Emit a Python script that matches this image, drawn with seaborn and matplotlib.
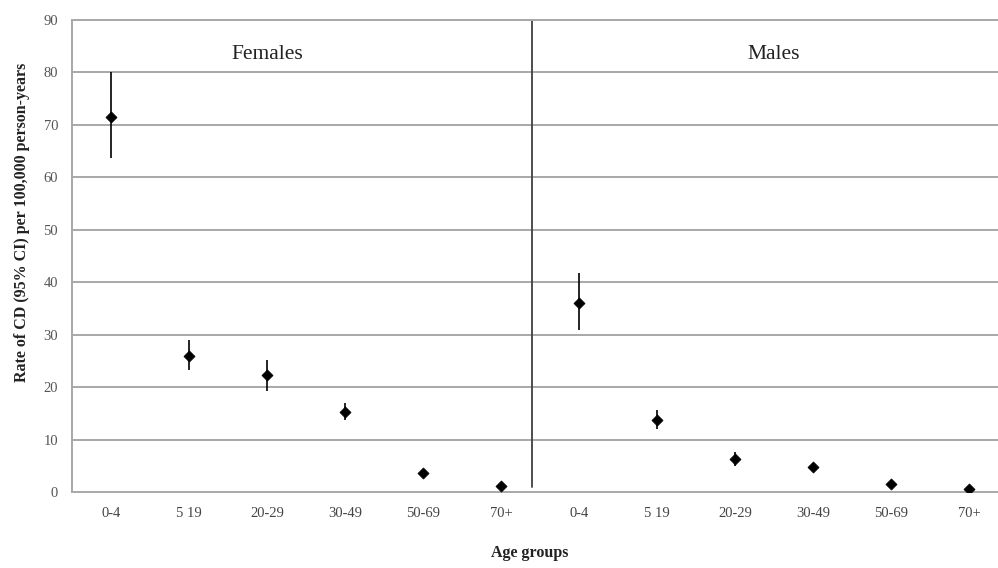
import numpy as np
import pandas as pd
import seaborn as sns
import matplotlib
matplotlib.use("Agg")
import matplotlib.pyplot as plt

# data
age_groups = ["0-4", "5 19", "20-29", "30-49", "50-69", "70+"]
female_rate = [71.5, 26.0, 22.3, 15.3, 3.6, 1.2]
female_low = [63.7, 23.3, 19.3, 13.7, 3.0, 0.8]
female_high = [80.0, 29.0, 25.2, 17.0, 4.3, 1.6]
male_rate = [36.0, 13.7, 6.2, 4.8, 1.5, 0.5]
male_low = [30.8, 12.0, 4.9, 4.3, 1.1, 0.3]
male_high = [41.8, 15.6, 7.7, 5.4, 1.9, 0.7]

df = pd.DataFrame({
    "sex": ["Females"] * 6 + ["Males"] * 6,
    "age": age_groups * 2,
    "rate": female_rate + male_rate,
    "low": female_low + male_low,
    "high": female_high + male_high,
})
df["pos"] = np.arange(len(df))

sns.set_theme(style="white")
plt.rcParams["font.family"] = ["Liberation Serif", "DejaVu Serif"]

fig = plt.figure(figsize=(9.98, 5.68), dpi=100)
ax = fig.add_axes([72 / 998, 76 / 568, 1 - 72 / 998, 472 / 568])

# horizontal grid
for v in range(10, 100, 10):
    ax.axhline(v, color="#a8a8a8", lw=1.4, zorder=0)

# confidence intervals
ax.vlines(df["pos"], df["low"], df["high"], color="black", lw=1.2, zorder=2)

sns.scatterplot(data=df, x="pos", y="rate", marker="D", s=32, color="black",
                edgecolor="black", linewidth=0.5, ax=ax, zorder=3, legend=False)

# divider between sexes
ax.axvline(5.4, ymin=0.01, ymax=1, color="#404040", lw=1.3, zorder=1)

ax.text(2.0, 83.5, "Females", ha="center", va="center", fontsize=15.5, color="#222222")
ax.text(8.5, 83.5, "Males", ha="center", va="center", fontsize=15.5, color="#222222")

ax.set_xlim(-0.5, 11.37)
ax.set_ylim(0, 90)
ax.set_xticks(df["pos"])
ax.set_xticklabels(df["age"])
ax.set_yticks(range(0, 100, 10))
ax.tick_params(axis="x", length=0, pad=10.5, labelsize=10.5, labelcolor="#444444")
ax.tick_params(axis="y", length=0, pad=10, labelsize=10.5, labelcolor="#555555")

ax.spines["right"].set_visible(False)
for side in ["left", "bottom", "top"]:
    ax.spines[side].set_color("#a8a8a8")
    ax.spines[side].set_linewidth(1.4)

ax.set_xlabel("Age groups", fontsize=11.5, fontweight="bold", color="#222222")
ax.set_ylabel("Rate of CD (95% CI) per 100,000 person-years", fontsize=11.5,
              fontweight="bold", color="#222222")
ax.xaxis.set_label_coords((530 - 72) / 926, -(545 - 492) / 472)
ax.yaxis.set_label_coords((30 - 72) / 926, (492 - 222) / 472)

fig.savefig("out.png", dpi=100)
